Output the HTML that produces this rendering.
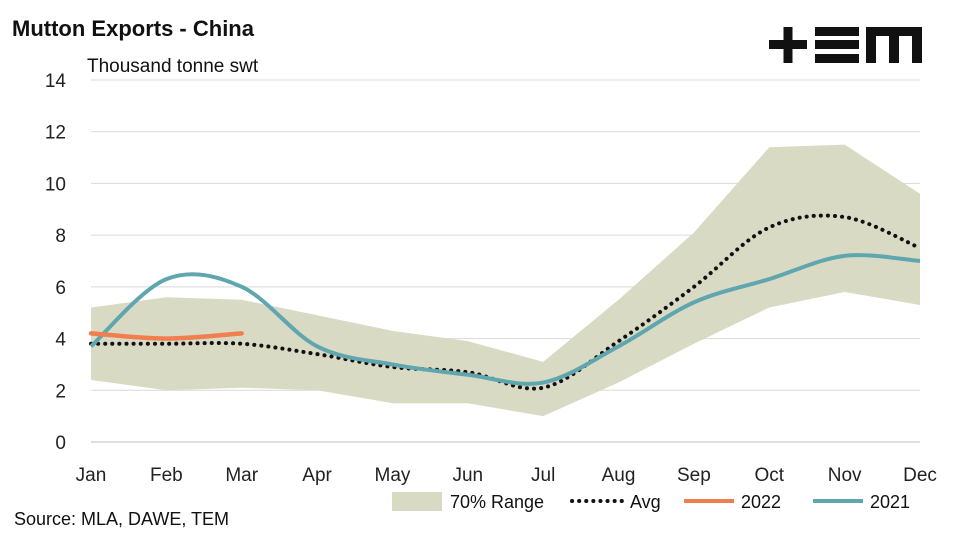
<!DOCTYPE html>
<html><head><meta charset="utf-8"><style>
body{margin:0;background:#fff;}
svg{display:block;font-family:"Liberation Sans",Arial,sans-serif;}
</style></head><body>
<svg width="957" height="534" viewBox="0 0 957 534">
<text x="12" y="36" font-size="22" font-weight="bold" fill="#111">Mutton Exports - China</text>
<text x="87" y="72" font-size="19" fill="#111">Thousand tonne swt</text>
<g fill="#111">
<rect x="769" y="40" width="38" height="9"/><rect x="783.5" y="27" width="9" height="36"/>
<rect x="815" y="27" width="44" height="9"/><rect x="815" y="40" width="44" height="9"/><rect x="815" y="54" width="44" height="9"/>
<path d="M866 63 V27 H922 V63 H912 V36 H899 V63 H889 V36 H876 V63 Z"/>
</g>
<g id="grid"></g><g id="plot"></g><g id="axes"></g>
<g>
<rect x="392" y="492" width="50" height="19" fill="#d9dac4"/>
<text x="450" y="508" font-size="18" fill="#111">70% Range</text>
<line x1="572" y1="501" x2="622" y2="501" stroke="#111" stroke-width="4" stroke-dasharray="0.1 7" stroke-linecap="round"/>
<text x="630" y="508" font-size="18" fill="#111">Avg</text>
<line x1="684" y1="501" x2="734" y2="501" stroke="#f07f4f" stroke-width="4"/>
<text x="741" y="508" font-size="18" fill="#111">2022</text>
<line x1="813" y1="501" x2="863" y2="501" stroke="#5fa6ae" stroke-width="4"/>
<text x="870" y="508" font-size="18" fill="#111">2021</text>
</g>
<text x="14" y="525" font-size="18" fill="#111">Source: MLA, DAWE, TEM</text>
</svg>
<script>
const months=["Jan","Feb","Mar","Apr","May","Jun","Jul","Aug","Sep","Oct","Nov","Dec"];
const yTicks=[0,2,4,6,8,10,12,14];
const rangeHigh=[5.2,5.6,5.5,4.9,4.3,3.9,3.1,5.5,8.1,11.4,11.5,9.6];
const rangeLow=[2.4,2.0,2.1,2.0,1.5,1.5,1.0,2.3,3.8,5.2,5.8,5.3];
const avg=[3.8,3.8,3.8,3.4,2.9,2.7,2.1,3.9,6.0,8.3,8.7,7.5];
const s2021=[3.7,6.3,6.0,3.7,3.0,2.6,2.3,3.7,5.4,6.3,7.2,7.0];
const s2022=[4.2,4.0,4.2];
const NS="http://www.w3.org/2000/svg";
const X=i=>91+i*(829/11);
const Y=v=>442-v*(362/14);
function mk(t,a,p){const e=document.createElementNS(NS,t);for(const k in a)e.setAttribute(k,a[k]);document.getElementById(p).appendChild(e);return e;}
yTicks.forEach(v=>{
 if(v>0){const l=mk('line',{x1:91,x2:920,y1:Y(v),y2:Y(v),stroke:'#d9d9d9','stroke-width':1},'grid');
 
 }
 const t=mk('text',{x:66,y:Y(v)+7,'font-size':19,'text-anchor':'end',fill:'#222'},'axes');t.textContent=v;
 
 
});
const ax=mk('line',{x1:91,x2:920,y1:Y(0),y2:Y(0),stroke:'#bfbfbf','stroke-width':1},'axes');


months.forEach((m,i)=>{const t=mk('text',{x:X(i),y:481,'font-size':19,'text-anchor':'middle',fill:'#222'},'axes');t.textContent=m;
 
 });
let pts=rangeHigh.map((v,i)=>X(i)+','+Y(v));
for(let i=rangeLow.length-1;i>=0;i--)pts.push(X(i)+','+Y(rangeLow[i]));
const poly=mk('polygon',{points:pts.join(' '),fill:'#d9dac4'},'plot');


function smooth(vals){const p=vals.map((v,i)=>[X(i),Y(v)]);let d='M'+p[0][0]+','+p[0][1];
 for(let i=0;i<p.length-1;i++){const p0=p[i-1]||p[i],p1=p[i],p2=p[i+1],p3=p[i+2]||p2;const t=6;
 d+=` C${p1[0]+(p2[0]-p0[0])/t},${p1[1]+(p2[1]-p0[1])/t} ${p2[0]-(p3[0]-p1[0])/t},${p2[1]-(p3[1]-p1[1])/t} ${p2[0]},${p2[1]}`;}return d;}
const a=mk('path',{d:smooth(avg),fill:'none',stroke:'#111','stroke-width':4,'stroke-dasharray':'0.1 7','stroke-linecap':'round'},'plot');


const l1=mk('path',{d:smooth(s2021),fill:'none',stroke:'#5fa6ae','stroke-width':4},'plot');


const l2=mk('path',{d:smooth(s2022),fill:'none',stroke:'#f07f4f','stroke-width':4.5,'stroke-linecap':'round'},'plot');


</script>
</body></html>
